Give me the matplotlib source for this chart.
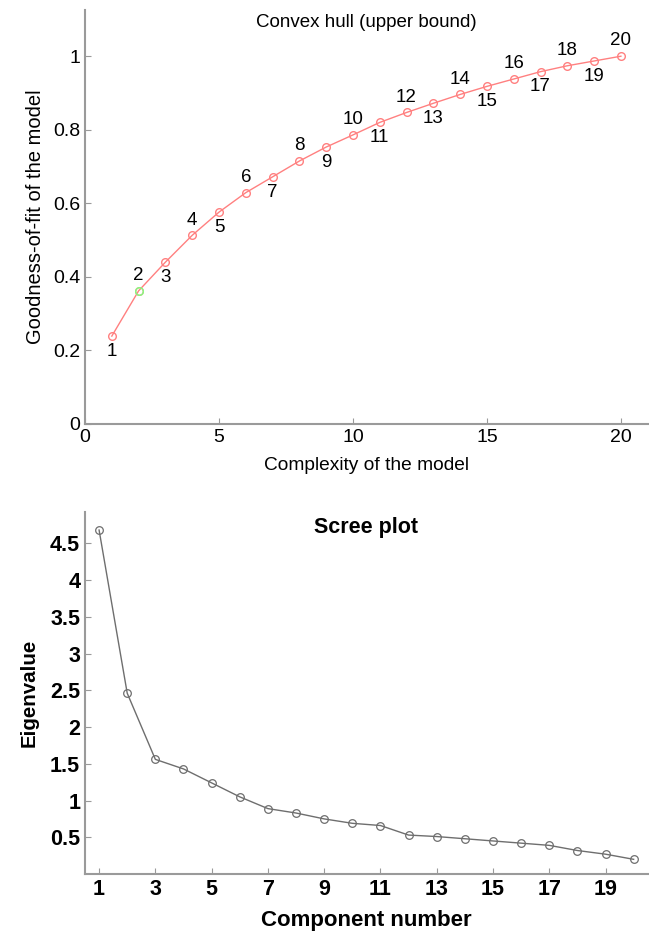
import matplotlib
matplotlib.use("Agg")
import matplotlib.pyplot as plt
import numpy as np

plt.rcParams['font.family'] = ['Liberation Sans', 'DejaVu Sans']

# top panel: convex hull of goodness-of-fit vs complexity
complexity = list(range(1, 21))
fit = [0.239, 0.362, 0.440, 0.513, 0.576, 0.629, 0.672, 0.715, 0.753, 0.786,
       0.820, 0.847, 0.872, 0.896, 0.918, 0.938, 0.958, 0.974, 0.987, 1.000]
highlight = 2

# bottom panel: scree plot
component = list(range(1, 21))
eigen = [4.68, 2.46, 1.56, 1.43, 1.24, 1.05, 0.89, 0.83, 0.75, 0.69,
         0.66, 0.53, 0.51, 0.48, 0.45, 0.42, 0.39, 0.32, 0.27, 0.20]

spine_col = '#9a9a9a'
fig = plt.figure(figsize=(6.49, 9.31), dpi=100)

# ---- top ----
ax1 = fig.add_axes([0.131, 0.5446, 0.867, 0.4444])
ax1.plot(complexity, fit, '-o', color='#ff8080', lw=1, ms=5.5, mfc='none', mew=1)
i = complexity.index(highlight)
ax1.plot(complexity[i], fit[i], 'o', color='#80ff80', ms=5.5, mfc='none', mew=1)
for x, y in zip(complexity, fit):
    up = (x % 2 == 0)
    ax1.annotate(str(x), (x, y), xytext=(0, 11 if up else -11),
                 textcoords='offset points', ha='center', va='center',
                 fontsize=13.5)
ax1.set_xlim(0, 21)
ax1.set_ylim(0, 1.125)
ax1.set_xticks([0, 5, 10, 15, 20])
ax1.set_yticks([0, 0.2, 0.4, 0.6, 0.8, 1])
ax1.set_yticklabels(['0', '0.2', '0.4', '0.6', '0.8', '1'])
ax1.tick_params(direction='in', labelsize=14, color=spine_col, length=4)
for s in ['top', 'right']:
    ax1.spines[s].set_visible(False)
for s in ['left', 'bottom']:
    ax1.spines[s].set_color(spine_col)
    ax1.spines[s].set_linewidth(1.5)
ax1.text(0.5, 0.99, 'Convex hull (upper bound)', transform=ax1.transAxes,
         ha='center', va='top', fontsize=13.5)
ax1.set_xlabel('Complexity of the model', fontsize=13.8, labelpad=8)
ax1.set_ylabel('Goodness-of-fit of the model', fontsize=14.5, labelpad=6)

# ---- bottom ----
ax2 = fig.add_axes([0.131, 0.0612, 0.867, 0.3892])
ax2.plot(component, eigen, '-o', color='#6e6e6e', lw=1, ms=5.5, mfc='none',
         mec='#6e6e6e', mew=0.9)
ax2.set_xlim(0.5, 20.5)
ax2.set_ylim(0, 4.93)
ax2.set_xticks(range(1, 20, 2))
ax2.set_yticks(np.arange(0.5, 4.6, 0.5))
ax2.set_yticklabels(['0.5', '1', '1.5', '2', '2.5', '3', '3.5', '4', '4.5'])
ax2.tick_params(direction='in', labelsize=15.5, color=spine_col, length=4)
for lab in ax2.get_xticklabels() + ax2.get_yticklabels():
    lab.set_fontweight('bold')
for s in ['top', 'right']:
    ax2.spines[s].set_visible(False)
for s in ['left', 'bottom']:
    ax2.spines[s].set_color(spine_col)
    ax2.spines[s].set_linewidth(1.5)
ax2.text(0.5, 0.985, 'Scree plot', transform=ax2.transAxes,
         ha='center', va='top', fontsize=15.5, fontweight='bold')
ax2.set_xlabel('Component number', fontsize=16, fontweight='bold', labelpad=7)
ax2.set_ylabel('Eigenvalue', fontsize=14.8, fontweight='bold', labelpad=8)

fig.savefig('out.png', dpi=100)
